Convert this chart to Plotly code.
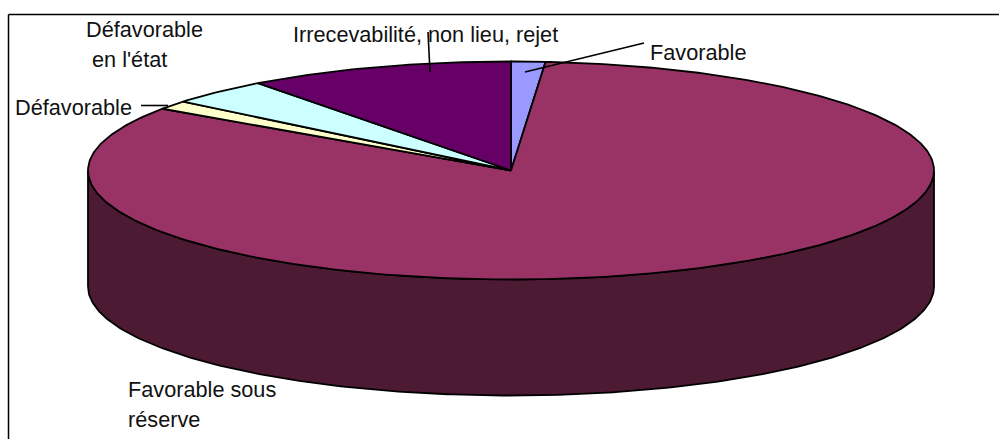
import numpy as np
import plotly.graph_objects as go

# Data (shares in %, clockwise from 12 o'clock)
categories = ["Favorable", "Favorable sous réserve", "Défavorable", "Défavorable en l'état", "Irrecevabilité, non lieu, rejet"]
values = [1.3, 83.2, 1.3, 3.9, 10.2]
colors = ["#9999FF", "#993366", "#FFFFCC", "#CCFFFF", "#660066"]
side_color = "#4D1A33"

# Projection of the tilted pie, in page pixels
W, H = 999, 439
CX, CY, RX, RY, DEPTH = 511, 170.5, 423, 109, 116
EDGE = dict(color="black", width=1.8)


def pt(t, dy=0.0):
    return CX + RX * np.sin(t), CY + dy - RY * np.cos(t)


fig = go.Figure()
shares = np.array(values) / sum(values) * 2 * np.pi
ends = np.cumsum(shares)
starts = ends - shares

# Visible side wall: the part of each slice on the front half
for a, b in zip(starts, ends):
    lo, hi = max(a, np.pi / 2), min(b, 3 * np.pi / 2)
    if hi <= lo:
        continue
    t = np.linspace(lo, hi, 240)
    x1, y1 = pt(t)
    x2, y2 = pt(t[::-1], DEPTH)
    fig.add_trace(go.Scatter(x=np.r_[x1, x2, x1[0]], y=np.r_[y1, y2, y1[0]], mode="lines",
                             fill="toself", fillcolor=side_color, line=EDGE, hoverinfo="skip"))

# Top faces
for a, b, c, name in zip(starts, ends, colors, categories):
    t = np.linspace(a, b, max(int((b - a) * 80), 12))
    x, y = pt(t)
    fig.add_trace(go.Scatter(x=np.r_[CX, x, CX], y=np.r_[CY, y, CY], mode="lines", name=name,
                             fill="toself", fillcolor=c, line=EDGE, hoverinfo="skip"))

# Label lines: (text, left x, centre y)
labels = [
    ("Défavorable", 87, 29),
    ("en l'état", 93, 59),
    ("Irrecevabilité, non lieu, rejet", 294, 34),
    ("Favorable", 651, 52),
    ("Défavorable", 16, 107),
    ("Favorable sous", 129, 389),
    ("réserve", 129, 419),
]
annotations = [dict(text=s, x=x, y=y, xref="x", yref="y", xanchor="left", yanchor="middle",
                    showarrow=False, xshift=-3, font=dict(family="Liberation Sans", size=21.7, color="#111111"))
               for s, x, y in labels]

shapes = [
    dict(type="line", x0=8.5, y0=14.5, x1=W + 5, y1=14.5, line=dict(color="black", width=1.5)),
    dict(type="line", x0=8.5, y0=14.5, x1=8.5, y1=H + 5, line=dict(color="black", width=1.5)),
    dict(type="line", x0=428, y0=32, x1=430, y1=72, line=dict(color="black", width=1.6)),
    dict(type="line", x0=644, y0=43, x1=525, y1=72, line=dict(color="black", width=1.6)),
    dict(type="line", x0=141, y0=105.5, x1=168, y1=105.5, line=dict(color="black", width=1.6)),
]

fig.update_layout(
    width=W, height=H, margin=dict(l=0, r=0, t=0, b=0),
    paper_bgcolor="white", plot_bgcolor="white", showlegend=False,
    xaxis=dict(range=[0, W], visible=False, fixedrange=True),
    yaxis=dict(range=[H, 0], visible=False, fixedrange=True),
    annotations=annotations, shapes=shapes,
)
fig.write_html("out.html", config={"displayModeBar": False},
               post_script="document.body.style.margin='0';document.body.style.overflow='hidden';")
